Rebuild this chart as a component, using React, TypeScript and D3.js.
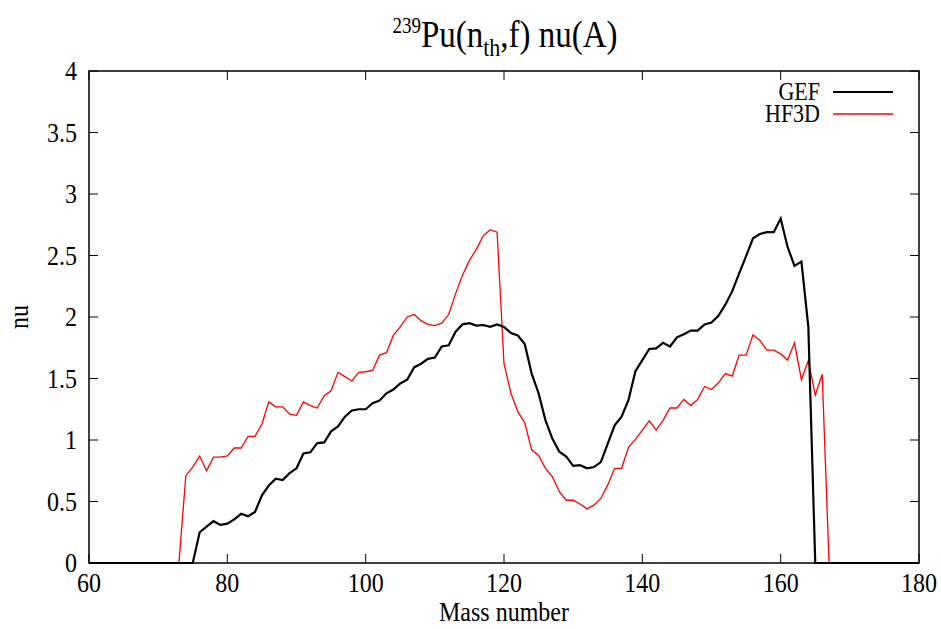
import React from "react";
import * as d3 from "d3";

const gefMass = [60, 75, 76, 77, 78, 79, 80, 81, 82, 83, 84, 85, 86, 87, 88, 89, 90, 91, 92, 93, 94, 95, 96, 97, 98, 99, 100, 101, 102, 103, 104, 105, 106, 107, 108, 109, 110, 111, 112, 113, 114, 115, 116, 117, 118, 119, 120, 121, 122, 123, 124, 125, 126, 127, 128, 129, 130, 131, 132, 133, 134, 135, 136, 137, 138, 139, 140, 141, 142, 143, 144, 145, 146, 147, 148, 149, 150, 151, 152, 153, 154, 155, 156, 157, 158, 159, 160, 161, 162, 163, 164, 165, 180];
const gefNu = [0, 0, 0.25, 0.295, 0.34, 0.31, 0.32, 0.355, 0.4, 0.38, 0.415, 0.55, 0.63, 0.685, 0.675, 0.73, 0.77, 0.89, 0.9, 0.975, 0.98, 1.07, 1.11, 1.19, 1.24, 1.25, 1.25, 1.3, 1.32, 1.38, 1.41, 1.46, 1.49, 1.59, 1.62, 1.66, 1.67, 1.76, 1.77, 1.88, 1.94, 1.95, 1.93, 1.935, 1.92, 1.94, 1.92, 1.87, 1.85, 1.78, 1.54, 1.38, 1.16, 1.01, 0.905, 0.865, 0.79, 0.795, 0.77, 0.78, 0.82, 0.97, 1.12, 1.19, 1.325, 1.56, 1.65, 1.74, 1.745, 1.79, 1.76, 1.835, 1.86, 1.89, 1.89, 1.94, 1.955, 2.01, 2.1, 2.21, 2.355, 2.495, 2.64, 2.675, 2.69, 2.69, 2.8, 2.57, 2.415, 2.45, 1.92, 0, 0];

const hfMass = [60, 73, 74, 75, 76, 77, 78, 79, 80, 81, 82, 83, 84, 85, 86, 87, 88, 89, 90, 91, 92, 93, 94, 95, 96, 97, 98, 99, 100, 101, 102, 103, 104, 105, 106, 107, 108, 109, 110, 111, 112, 113, 114, 115, 116, 117, 118, 119, 120, 121, 122, 123, 124, 125, 126, 127, 128, 129, 130, 131, 132, 133, 134, 135, 136, 137, 138, 139, 140, 141, 142, 143, 144, 145, 146, 147, 148, 149, 150, 151, 152, 153, 154, 155, 156, 157, 158, 159, 160, 161, 162, 163, 164, 165, 166, 167, 180];
const hfNu = [0, 0, 0.71, 0.78, 0.87, 0.75, 0.86, 0.86, 0.87, 0.935, 0.935, 1.03, 1.03, 1.13, 1.31, 1.27, 1.27, 1.21, 1.2, 1.31, 1.28, 1.26, 1.36, 1.4, 1.55, 1.515, 1.48, 1.55, 1.555, 1.565, 1.69, 1.71, 1.85, 1.92, 2.0, 2.02, 1.97, 1.94, 1.93, 1.95, 2.02, 2.19, 2.34, 2.46, 2.55, 2.66, 2.71, 2.69, 1.62, 1.38, 1.23, 1.14, 0.92, 0.875, 0.77, 0.7, 0.58, 0.51, 0.51, 0.48, 0.44, 0.47, 0.525, 0.635, 0.77, 0.77, 0.94, 1.005, 1.08, 1.155, 1.08, 1.16, 1.26, 1.26, 1.33, 1.28, 1.33, 1.435, 1.41, 1.465, 1.54, 1.52, 1.69, 1.69, 1.855, 1.81, 1.73, 1.73, 1.7, 1.65, 1.79, 1.49, 1.645, 1.365, 1.535, 0, 0];

const xTicks = [60, 80, 100, 120, 140, 160, 180];
const yTicks = [0, 0.5, 1, 1.5, 2, 2.5, 3, 3.5, 4];
const yTickLabels = ["0", "0.5", "1", "1.5", "2", "2.5", "3", "3.5", "4"];
const seriesNames = ["GEF", "HF3D"];
const seriesColors = ["#000000", "#ff0000"];

const W = 941, H = 629;
const L = 89, R = 919, T = 71, B = 563;
const font = "'Liberation Serif', 'Times New Roman', serif";
const SY = 1.18;

function Txt({ x, y, size, anchor = "start", rotate = 0, children }: any) {
  return (
    <text
      transform={`translate(${x},${y}) rotate(${rotate}) scale(1,${SY})`}
      fontSize={size}
      textAnchor={anchor}
    >
      {children}
    </text>
  );
}

export default function App() {
  const x = d3.scaleLinear().domain([60, 180]).range([L, R]);
  const y = d3.scaleLinear().domain([0, 4]).range([B, T]);
  const line = d3.line<[number, number]>().x(d => x(d[0])).y(d => y(d[1]));
  const gef = line(gefMass.map((m, i) => [m, gefNu[i]]) as [number, number][]) || "";
  const hf = line(hfMass.map((m, i) => [m, hfNu[i]]) as [number, number][]) || "";
  const tl = 9;
  return (
    <svg width={W} height={H} style={{ position: "absolute", left: 0, top: 0, background: "#fff" }} fontFamily={font}>
      <rect x={0} y={0} width={W} height={H} fill="#fff" />
      {xTicks.map((t, i) => (
        <g key={"x" + i}>
          <line x1={x(t)} x2={x(t)} y1={B} y2={B - tl} stroke="#000" strokeWidth={1} />
          <line x1={x(t)} x2={x(t)} y1={T} y2={T + tl} stroke="#000" strokeWidth={1} />
          <Txt x={x(t)} y={B + 29} size={24} anchor="middle">{t}</Txt>
        </g>
      ))}
      {yTicks.map((t, i) => (
        <g key={"y" + i}>
          <line x1={L} x2={L + tl} y1={y(t)} y2={y(t)} stroke="#000" strokeWidth={1} />
          <line x1={R} x2={R - tl} y1={y(t)} y2={y(t)} stroke="#000" strokeWidth={1} />
          <Txt x={L - 12} y={y(t) + 9} size={24} anchor="end">{yTickLabels[i]}</Txt>
        </g>
      ))}
      <path d={hf} fill="none" stroke={seriesColors[1]} strokeWidth={1.3} strokeLinejoin="miter" />
      <path d={gef} fill="none" stroke={seriesColors[0]} strokeWidth={2.2} strokeLinejoin="miter" />
      <rect x={L} y={T} width={R - L} height={B - T} fill="none" stroke="#000" strokeWidth={1.5} />
      {seriesNames.map((n, i) => (
        <g key={n}>
          <Txt x={820} y={100 + i * 22} size={22} anchor="end">{n}</Txt>
          <line x1={833} x2={893} y1={92 + i * 22} y2={92 + i * 22} stroke={seriesColors[i]} strokeWidth={i === 0 ? 2.2 : 1.3} />
        </g>
      ))}
      <Txt x={(L + R) / 2} y={621} size={24} anchor="middle">Mass number</Txt>
      <Txt x={28} y={(T + B) / 2} size={24} anchor="middle" rotate={-90}>nu</Txt>
      <text transform={`translate(505,47) scale(1,${SY})`} fontSize={33} textAnchor="middle">
        <tspan fontSize={19} dy={-12}>239</tspan>
        <tspan dy={12}>Pu(n</tspan>
        <tspan fontSize={22} dy={8}>th</tspan>
        <tspan dy={-8}>,f) nu(A)</tspan>
      </text>
    </svg>
  );
}
